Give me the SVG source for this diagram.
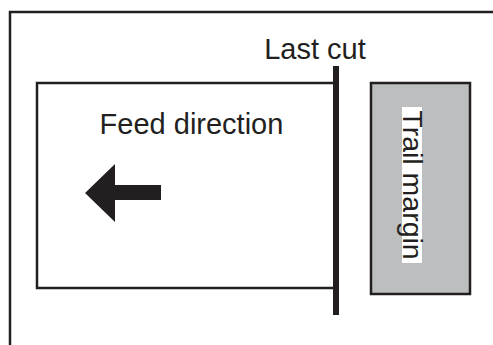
<svg xmlns="http://www.w3.org/2000/svg" width="493" height="345" viewBox="0 0 493 345">
<style>
.ln{fill:none;stroke:#231f20;stroke-width:2.5}
.t{font-family:"Liberation Sans",Arial,sans-serif;font-size:29px;fill:#231f20}
</style>
<rect width="493" height="345" fill="#fff"/>
<g id="frame">
<path class="ln" d="M10,345 V12 H493" stroke-width="2"/>
</g>
<g id="feed">
<rect class="ln" x="37" y="83" width="299" height="205" fill="#fff"/>
<text class="t" x="191.5" y="134" text-anchor="middle">Feed direction</text>
</g>
<g id="arrow">
<polygon points="85,193 115,164 115,185 161,185 161,200 115,200 115,222" fill="#231f20"/>
</g>
<g id="lastcut">
<rect x="333" y="66" width="6" height="249" fill="#231f20"/>
<text class="t" x="315" y="59" text-anchor="middle">Last cut</text>
</g>
<g id="trail">
<rect x="371" y="83" width="99" height="211" fill="#bcbec0" stroke="#231f20" stroke-width="2.5"/>
<rect x="402" y="107" width="20" height="156" fill="#fff"/>
<text class="t" transform="translate(403,185) rotate(90)" text-anchor="middle" style="font-size:28.5px">Trail margin</text>
</g>
</svg>
